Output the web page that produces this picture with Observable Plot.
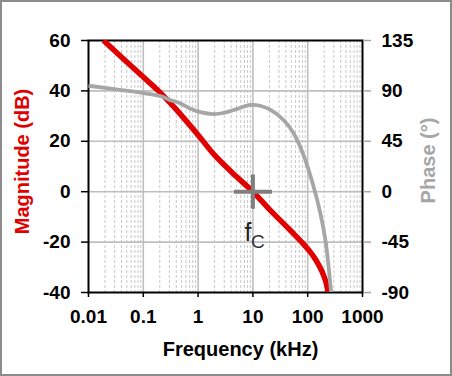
<!DOCTYPE html>
<html><head><meta charset="utf-8">
<script src="https://cdn.jsdelivr.net/npm/d3@7"></script>
<script src="https://cdn.jsdelivr.net/npm/@observablehq/plot@0.6"></script>
<style>
body{margin:0;background:#fff;}
#wrap{position:relative;width:452px;height:376px;overflow:hidden;}
#wrap svg{position:absolute;left:0;top:0;}
#border{position:absolute;left:0;top:0;width:452px;height:376px;box-sizing:border-box;border:2px solid #8c8c8c;pointer-events:none;}
</style></head><body>
<div id="wrap"><div id="border"></div></div>
<script>
// Magnitude (dB) vs frequency (kHz)
const magFreq = [0.0188, 0.05, 0.1, 0.189, 0.3, 0.5, 1, 2, 5, 10, 20, 48.5, 80, 112, 140, 170, 200, 222, 236];
const magDb   = [60, 51.5, 45.5, 40, 35.5, 30.2, 22.5, 14.5, 6, 0, -7, -15.4, -20.3, -24, -27, -30.3, -33.8, -37, -40];
// Phase (deg) vs frequency (kHz)
const phaseFreq = [0.01, 0.04, 0.094, 0.218, 0.3, 0.45, 0.73, 1.1, 1.9, 3, 5.2, 9, 14, 21, 37, 56, 85, 129, 171, 211, 268];
const phaseDeg  = [94.6, 90.7, 88.2, 85, 82, 79.5, 74, 71, 69.3, 70.5, 74, 77.5, 76.5, 73, 63.6, 51.7, 32, 4, -19.7, -43.6, -90];
// Axes
const dbTicks = [-40, -20, 0, 20, 40, 60];
const phaseTicks = [-90, -45, 0, 45, 90, 135];
const freqTicks = [0.01, 0.1, 1, 10, 100, 1000];
const freqTickLabels = ["0.01", "0.1", "1", "10", "100", "1000"];
const minorMultipliers = [2, 3, 4, 5, 6, 7, 8, 9];
// crossover marker
const fcFreq = [10];
const fcDb = [0];

const dbDomain = [-40, 60];
const phaseDomain = [-90, 135];
const toDb = p => dbDomain[0] + (p - phaseDomain[0]) * (dbDomain[1] - dbDomain[0]) / (phaseDomain[1] - phaseDomain[0]);
const toPhase = d => phaseDomain[0] + (d - dbDomain[0]) * (phaseDomain[1] - phaseDomain[0]) / (dbDomain[1] - dbDomain[0]);

const magData = magFreq.map((f, i) => ({f, v: magDb[i]}));
const phaseData = phaseFreq.map((f, i) => ({f, v: toDb(phaseDeg[i])}));
const fcData = fcFreq.map((f, i) => ({f, v: fcDb[i]}));
const minorTicks = freqTicks.slice(0, -1).flatMap(d => minorMultipliers.map(m => d * m));
const majorInner = freqTicks.slice(1, -1);
const gridDb = dbTicks.slice(1, -1);
const phaseTickDb = phaseTicks.map(toDb);

const crossSymbol = {
  draw(ctx, size) {
    const r = Math.sqrt(size / Math.PI);
    ctx.moveTo(-r * 1.06, 0); ctx.lineTo(r * 1.06, 0);
    ctx.moveTo(0, -r * 0.95); ctx.lineTo(0, r * 0.95);
  }
};

const font = "Liberation Sans, Arial, Helvetica, sans-serif";
const red = "#e00000";
const gray = "#a6a6a6";

const chart = Plot.plot({
  width: 452,
  height: 376,
  marginLeft: 88,
  marginRight: 90,
  marginTop: 40,
  marginBottom: 84,
  style: {fontFamily: font, fontSize: "19px", fontWeight: "bold", color: "black", background: "white"},
  x: {type: "log", domain: [0.01, 1000]},
  y: {domain: dbDomain},
  marks: [
    Plot.ruleX(minorTicks, {stroke: "#c8c8c8", strokeWidth: 1, strokeDasharray: "3,2"}),
    Plot.ruleX(majorInner, {stroke: "#bfbfbf", strokeWidth: 1.6}),
    Plot.ruleY(gridDb, {stroke: "#bfbfbf", strokeWidth: 1.6}),
    Plot.frame({stroke: "black", strokeWidth: 2}),
    Plot.axisY({anchor: "left", ticks: dbTicks, tickSize: 7, tickPadding: 11, label: null, stroke: "black", strokeWidth: 1.5,
      tickFormat: d => String(d)}),
    Plot.axisY({anchor: "right", ticks: phaseTickDb, tickSize: 8, tickPadding: 11, label: null,
      stroke: gray, strokeWidth: 1.5, fill: "black", tickFormat: d => String(Math.round(toPhase(d)))}),
    Plot.axisX({anchor: "bottom", ticks: freqTicks, tickSize: 5, tickPadding: 12, label: null, strokeWidth: 1.5,
      tickFormat: d => freqTickLabels[freqTicks.indexOf(d)] ?? ""}),
    Plot.line(magData, {x: "f", y: "v", stroke: red, strokeWidth: 5.5, curve: "catmull-rom", clip: true, strokeLinecap: "butt"}),
    Plot.line(phaseData, {x: "f", y: "v", stroke: gray, strokeWidth: 3.8, curve: "catmull-rom", clip: true, strokeLinecap: "butt"}),
    Plot.dot(fcData, {x: "f", y: "v", symbol: crossSymbol, r: 18, stroke: "#7f7f7f", strokeWidth: 4, fill: "none"}),
    Plot.text(fcData, {x: "f", y: "v", text: () => "f", dx: -5, dy: 41, fontSize: 25, fontWeight: "normal", fill: "#222", fontFamily: font}),
    Plot.text(fcData, {x: "f", y: "v", text: () => "C", dx: 5, dy: 50, fontSize: 19, fontWeight: "normal", fill: "#333", fontFamily: font}),
    Plot.text(["Magnitude (dB)"], {frameAnchor: "left", textAnchor: "middle", lineAnchor: "middle", rotate: -90, dx: -66, dy: -5, fill: red, fontSize: 20, fontWeight: "bold"}),
    Plot.text(["Phase (°)"], {frameAnchor: "right", textAnchor: "middle", lineAnchor: "middle", rotate: -90, dx: 66, dy: -6, fill: gray, fontSize: 20, fontWeight: "bold"}),
    Plot.text(["Frequency (kHz)"], {frameAnchor: "bottom", textAnchor: "middle", lineAnchor: "middle", dx: 15, dy: 57, fill: "black", fontSize: 20, fontWeight: "bold"})
  ]
});
document.getElementById("wrap").insertBefore(chart, document.getElementById("border"));
</script>
</body></html>
